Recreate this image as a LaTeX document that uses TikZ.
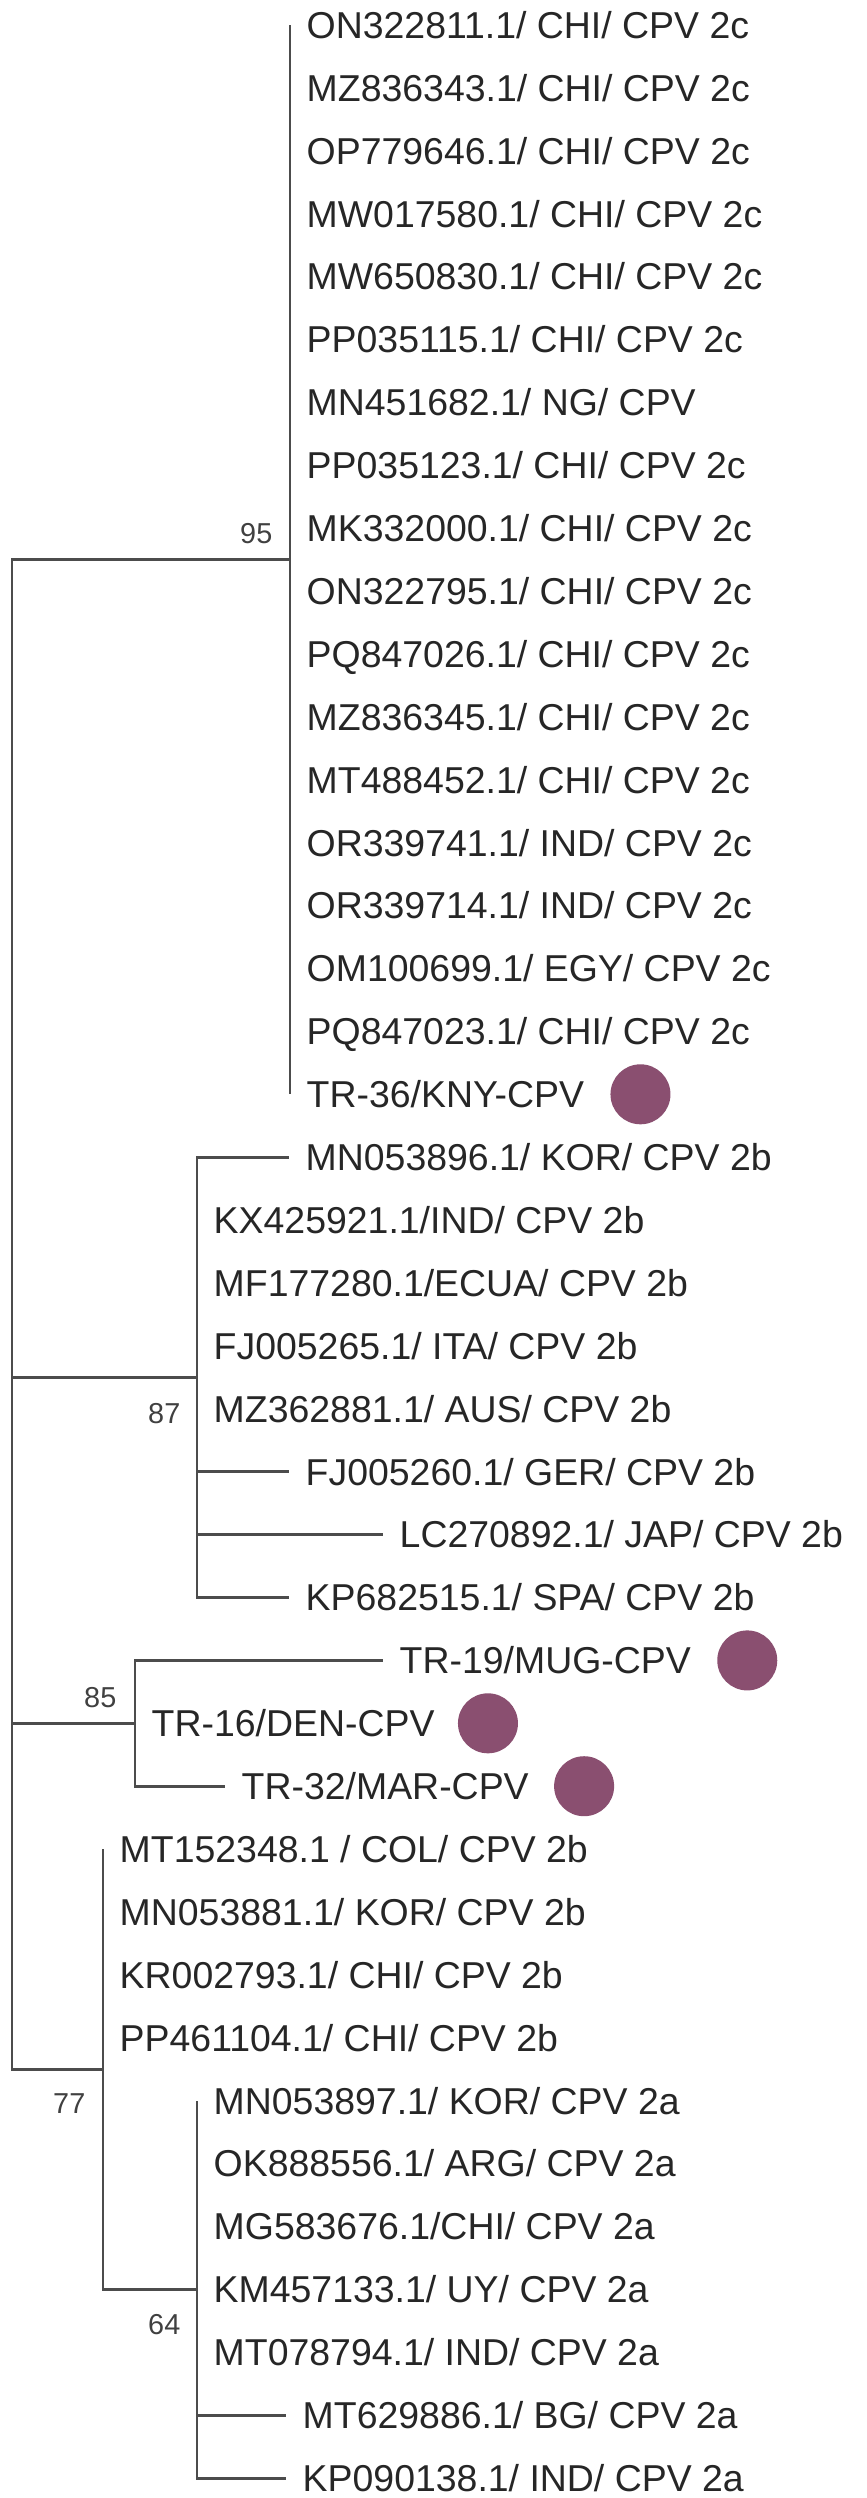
\documentclass[tikz,border=0pt]{standalone}
\usepackage{fontspec}
\setmainfont{Liberation Sans}
\usetikzlibrary{positioning}
\definecolor{cpvdot}{RGB}{138,79,112}

\begin{document}
\begin{tikzpicture}[
    leaf/.style={anchor=west, inner xsep=1.6mm, inner ysep=0pt, text height=7.6pt, text depth=0pt, font=\fontsize{10.65}{12}\selectfont, text=black!85},
    boot/.style={inner sep=0pt, text height=5.9pt, text depth=0pt, font=\fontsize{8.2}{10}\selectfont, text=black!75},
    branch/.style={draw=black!70, line width=0.8pt},
    tagdot/.style={circle, fill=cpvdot, minimum size=6mm, inner sep=0pt}
]
    \useasboundingbox (0,0) rectangle (8.66,-24.98);

    % internal nodes
    \coordinate (root) at (0.12,-13.145);
    \coordinate (n95) at (2.90,-5.597);
    \coordinate (n87) at (1.97,-13.774);
    \coordinate (n85) at (1.35,-17.233);
    \coordinate (n77) at (1.03,-20.693);
    \coordinate (n64) at (1.97,-22.894);

    % CPV 2c clade
    \node[leaf] (ON322811) at (2.90,-0.250) {ON322811.1/ CHI/ CPV 2c};
    \node[leaf] (MZ836343) at (2.90,-0.879) {MZ836343.1/ CHI/ CPV 2c};
    \node[leaf] (OP779646) at (2.90,-1.508) {OP779646.1/ CHI/ CPV 2c};
    \node[leaf] (MW017580) at (2.90,-2.137) {MW017580.1/ CHI/ CPV 2c};
    \node[leaf] (MW650830) at (2.90,-2.766) {MW650830.1/ CHI/ CPV 2c};
    \node[leaf] (PP035115) at (2.90,-3.395) {PP035115.1/ CHI/ CPV 2c};
    \node[leaf] (MN451682) at (2.90,-4.024) {MN451682.1/ NG/ CPV};
    \node[leaf] (PP035123) at (2.90,-4.653) {PP035123.1/ CHI/ CPV 2c};
    \node[leaf] (MK332000) at (2.90,-5.282) {MK332000.1/ CHI/ CPV 2c};
    \node[leaf] (ON322795) at (2.90,-5.911) {ON322795.1/ CHI/ CPV 2c};
    \node[leaf] (PQ847026) at (2.90,-6.540) {PQ847026.1/ CHI/ CPV 2c};
    \node[leaf] (MZ836345) at (2.90,-7.169) {MZ836345.1/ CHI/ CPV 2c};
    \node[leaf] (MT488452) at (2.90,-7.798) {MT488452.1/ CHI/ CPV 2c};
    \node[leaf] (OR339741) at (2.90,-8.427) {OR339741.1/ IND/ CPV 2c};
    \node[leaf] (OR339714) at (2.90,-9.056) {OR339714.1/ IND/ CPV 2c};
    \node[leaf] (OM100699) at (2.90,-9.685) {OM100699.1/ EGY/ CPV 2c};
    \node[leaf] (PQ847023) at (2.90,-10.314) {PQ847023.1/ CHI/ CPV 2c};
    \node[leaf] (TR36) at (2.90,-10.943) {TR-36/KNY-CPV};

    % CPV 2b clade
    \node[leaf] (MN053896) at (2.89,-11.572) {MN053896.1/ KOR/ CPV 2b};
    \node[leaf] (KX425921) at (1.97,-12.201) {KX425921.1/IND/ CPV 2b};
    \node[leaf] (MF177280) at (1.97,-12.830) {MF177280.1/ECUA/ CPV 2b};
    \node[leaf] (FJ005265) at (1.97,-13.459) {FJ005265.1/ ITA/ CPV 2b};
    \node[leaf] (MZ362881) at (1.97,-14.088) {MZ362881.1/ AUS/ CPV 2b};
    \node[leaf] (FJ005260) at (2.89,-14.717) {FJ005260.1/ GER/ CPV 2b};
    \node[leaf] (LC270892) at (3.83,-15.346) {LC270892.1/ JAP/ CPV 2b};
    \node[leaf] (KP682515) at (2.89,-15.975) {KP682515.1/ SPA/ CPV 2b};

    % TR samples
    \node[leaf] (TR19) at (3.83,-16.604) {TR-19/MUG-CPV};
    \node[leaf] (TR16) at (1.35,-17.233) {TR-16/DEN-CPV};
    \node[leaf] (TR32) at (2.25,-17.862) {TR-32/MAR-CPV};

    % CPV 2b / 2a clade
    \node[leaf] (MT152348) at (1.03,-18.491) {MT152348.1 / COL/ CPV 2b};
    \node[leaf] (MN053881) at (1.03,-19.120) {MN053881.1/ KOR/ CPV 2b};
    \node[leaf] (KR002793) at (1.03,-19.749) {KR002793.1/ CHI/ CPV 2b};
    \node[leaf] (PP461104) at (1.03,-20.378) {PP461104.1/ CHI/ CPV 2b};
    \node[leaf] (MN053897) at (1.97,-21.007) {MN053897.1/ KOR/ CPV 2a};
    \node[leaf] (OK888556) at (1.97,-21.636) {OK888556.1/ ARG/ CPV 2a};
    \node[leaf] (MG583676) at (1.97,-22.265) {MG583676.1/CHI/ CPV 2a};
    \node[leaf] (KM457133) at (1.97,-22.894) {KM457133.1/ UY/ CPV 2a};
    \node[leaf] (MT078794) at (1.97,-23.523) {MT078794.1/ IND/ CPV 2a};
    \node[leaf] (MT629886) at (2.86,-24.152) {MT629886.1/ BG/ CPV 2a};
    \node[leaf] (KP090138) at (2.86,-24.781) {KP090138.1/ IND/ CPV 2a};

    % markers for the TR samples
    \node[tagdot, right=0.9mm of TR36] (d36) {};
    \node[tagdot, right=0.9mm of TR19] (d19) {};
    \node[tagdot, right=0.6mm of TR16] (d16) {};
    \node[tagdot, right=0.8mm of TR32] (d32) {};

    % branches
    \foreach \child in {n95, n87, n85, n77}
        \draw[branch] (root) |- (\child);
    \foreach \leafname in {ON322811, MZ836343, OP779646, MW017580, MW650830, PP035115, MN451682, PP035123, MK332000, ON322795, PQ847026, MZ836345, MT488452, OR339741, OR339714, OM100699, PQ847023, TR36}
        \draw[branch] (n95) |- (\leafname.west);
    \foreach \leafname in {MN053896, KX425921, MF177280, FJ005265, MZ362881, FJ005260, LC270892, KP682515}
        \draw[branch] (n87) |- (\leafname.west);
    \foreach \leafname in {TR19, TR16, TR32}
        \draw[branch] (n85) |- (\leafname.west);
    \foreach \leafname in {MT152348, MN053881, KR002793, PP461104}
        \draw[branch] (n77) |- (\leafname.west);
    \draw[branch] (n77) |- (n64);
    \foreach \leafname in {MN053897, OK888556, MG583676, KM457133, MT078794, MT629886, KP090138}
        \draw[branch] (n64) |- (\leafname.west);

    % bootstrap values
    \node[boot, above left=0.15cm and 0.17cm of n95] (b95) {95};
    \node[boot, below left=0.25cm and 0.16cm of n87] (b87) {87};
    \node[boot, above left=0.15cm and 0.18cm of n85] (b85) {85};
    \node[boot, below left=0.23cm and 0.17cm of n77] (b77) {77};
    \node[boot, below left=0.24cm and 0.16cm of n64] (b64) {64};
\end{tikzpicture}
\end{document}
